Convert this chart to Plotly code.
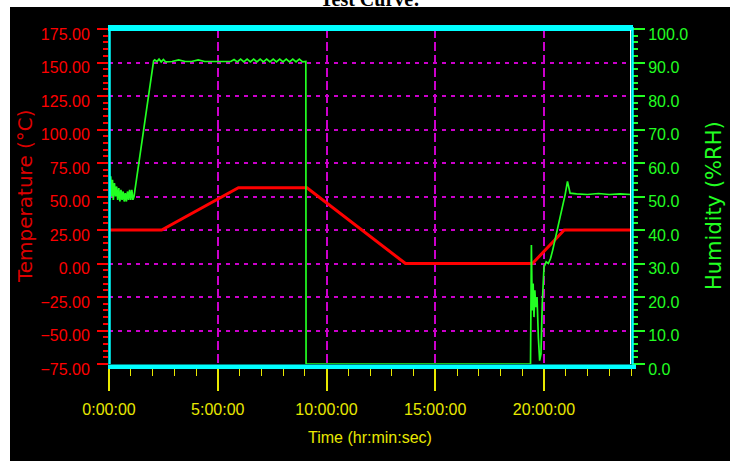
import plotly.graph_objects as go

# ---------------- data ----------------
time_ticks = [0, 5, 10, 15, 20]
time_labels = ["0:00:00", "5:00:00", "10:00:00", "15:00:00", "20:00:00"]

# Temperature (°C) vs time (hours)
temp_t = [0.0, 2.42, 5.95, 9.10, 13.63, 19.47, 20.93, 24.0]
temp_v = [25.0, 25.0, 56.5, 56.5, 0.0, 0.0, 25.0, 25.0]

# Humidity (%RH) vs time (hours)
hum_t = [0.00, 0.04, 0.08, 0.12, 0.16, 0.20, 0.25, 0.30, 0.35, 0.40, 0.45, 0.50,
         0.55, 0.60, 0.65, 0.70, 0.75, 0.80, 0.85, 0.90, 0.95, 1.00, 1.05, 1.10, 1.15,
         1.30, 1.45, 1.60, 1.75, 1.90, 2.05, 2.10,
         2.20, 2.30, 2.40, 2.50, 2.60, 2.90, 3.20, 3.50, 3.80, 4.10, 4.40, 4.70,
         5.00, 5.30, 5.60, 5.75, 5.90, 6.05, 6.20, 6.35, 6.50, 6.65, 6.80, 6.95,
         7.10, 7.25, 7.40, 7.55, 7.70, 7.85, 8.00, 8.15, 8.30, 8.45, 8.60, 8.75,
         8.90, 9.05,
         9.06, 19.38, 19.42, 19.46, 19.50, 19.54, 19.58, 19.62, 19.68, 19.74,
         19.80, 19.86, 19.92, 20.00, 20.10, 20.20, 20.30, 20.40, 20.50, 20.60,
         20.72, 20.85, 20.97, 21.08, 21.20, 21.50, 22.00, 22.50, 23.00, 23.50, 24.00]
hum_v = [65.0, 49.0, 56.0, 50.0, 55.0, 49.0, 54.0, 50.0, 53.0, 49.0, 52.5, 48.5,
         52.0, 49.0, 51.5, 48.5, 51.0, 48.5, 51.5, 49.0, 52.0, 49.0, 52.0, 49.0, 50.0,
         57.0, 64.0, 71.0, 78.0, 84.5, 90.5, 90.8,
         90.3, 91.0, 90.2, 90.9, 90.2, 90.3, 90.8, 90.3, 90.3, 90.8, 90.3, 90.3,
         90.3, 90.3, 90.3, 90.9, 90.2, 91.0, 90.2, 91.0, 90.2, 91.0, 90.2, 91.0,
         90.2, 91.0, 90.2, 91.0, 90.2, 91.0, 90.2, 91.0, 90.2, 91.0, 90.2, 91.0,
         90.2, 90.3,
         0.0, 0.0, 35.5, 16.0, 24.0, 14.0, 22.0, 17.0, 20.0, 8.0,
         1.0, 3.0, 18.0, 29.0, 30.5, 30.0, 31.5, 34.0, 37.0, 40.0,
         43.0, 46.5, 50.5, 54.5, 51.0, 50.8, 50.6, 50.9, 50.6, 50.8, 50.6]

# ---------------- figure ----------------
W, H = 730, 461
L, R, T, B = 109, 631, 29, 364
pw, ph = R - L, B - T


def px(x):
    return (x - L) / pw


def py(y):
    return (B - y) / ph


SANS = "Liberation Sans, Arial, sans-serif"
RED = "#FF0000"
GREEN = "#22FF22"
YELLOW = "#E8E800"
CYAN = "#00FFFF"
MAGENTA = "#CC00CC"

fig = go.Figure()
fig.add_trace(go.Scatter(x=temp_t, y=temp_v, mode="lines", yaxis="y",
                         line=dict(color=RED, width=3), hoverinfo="skip"))
fig.add_trace(go.Scatter(x=hum_t, y=hum_v, mode="lines", yaxis="y2",
                         line=dict(color=GREEN, width=1.7), hoverinfo="skip"))

fig.update_layout(
    width=W, height=H,
    margin=dict(l=L, r=W - R, t=T, b=H - B, pad=0),
    paper_bgcolor="white", plot_bgcolor="black",
    showlegend=False,
    xaxis=dict(
        range=[0, 24], tickmode="array", tickvals=time_ticks, ticktext=time_labels,
        ticks="outside", ticklen=26, tickwidth=1.5, tickcolor=YELLOW,
        minor=dict(dtick=1, tick0=0, ticklen=11, tickwidth=1, tickcolor=YELLOW,
                   ticks="outside", showgrid=False),
        showgrid=True, gridcolor=MAGENTA, griddash="9px,4px", gridwidth=1.5,
        zeroline=False, showline=False, ticklabelstandoff=5,
        tickfont=dict(family=SANS, size=16, color=YELLOW),
    ),
    yaxis=dict(
        range=[-75, 175], tickmode="linear", tick0=0, dtick=25, tickformat=".2f",
        ticks="outside", ticklen=11, tickwidth=2, tickcolor=RED,
        minor=dict(dtick=5, ticklen=5, tickwidth=1.5, tickcolor=RED,
                   ticks="outside", showgrid=False),
        showgrid=True, gridcolor=MAGENTA, griddash="4px,5px", gridwidth=2,
        zeroline=False, showline=False, ticklabelshift=5, ticklabelstandoff=4,
        tickfont=dict(family=SANS, size=16, color=RED),
    ),
    yaxis2=dict(
        range=[0, 100], overlaying="y", side="right", tickmode="linear", tick0=0,
        dtick=10, tickformat=".1f",
        ticks="outside", ticklen=13, tickwidth=2, tickcolor=GREEN,
        minor=dict(dtick=2, ticklen=6, tickwidth=1.5, tickcolor=GREEN,
                   ticks="outside", showgrid=False),
        showgrid=False, zeroline=False, showline=False, ticklabelshift=5,
        tickfont=dict(family=SANS, size=16, color=GREEN),
    ),
    shapes=[
        dict(type="rect", xref="paper", yref="paper", layer="below",
             x0=px(10), x1=px(730), y0=py(461), y1=py(7),
             fillcolor="black", line=dict(width=0)),
        dict(type="rect", xref="paper", yref="paper", layer="above",
             x0=px(108), x1=px(633), y0=py(31), y1=py(25),
             fillcolor=CYAN, line=dict(width=0)),
        dict(type="rect", xref="paper", yref="paper", layer="above",
             x0=px(108), x1=px(636), y0=py(369), y1=py(364.5),
             fillcolor=CYAN, line=dict(width=0)),
        dict(type="line", xref="paper", yref="paper", layer="above",
             x0=px(109.5), x1=px(109.5), y0=py(364), y1=py(27),
             line=dict(color=CYAN, width=2.5)),
        dict(type="line", xref="paper", yref="paper", layer="above",
             x0=px(632.5), x1=px(632.5), y0=py(364), y1=py(27),
             line=dict(color=CYAN, width=2.5)),
        dict(type="line", xref="paper", yref="paper", layer="above",
             x0=px(630.5), x1=px(630.5), y0=py(364), y1=py(30),
             line=dict(color="white", width=1)),
    ],
    annotations=[
        dict(text="Test Curve:", xref="paper", yref="paper", x=px(370), y=py(-1),
             xanchor="center", yanchor="middle", showarrow=False,
             font=dict(family="Liberation Serif, Times New Roman, serif", size=20,
                       color="black", weight="bold")),
        dict(text="Temperature (°C)", xref="paper", yref="paper", x=px(25), y=py(196),
             xanchor="center", yanchor="middle", showarrow=False, textangle=-90,
             font=dict(family="DejaVu Sans, sans-serif", size=20, color="#DD0000")),
        dict(text="Humidity (%RH)", xref="paper", yref="paper", x=px(714), y=py(206),
             xanchor="center", yanchor="middle", showarrow=False, textangle=-90,
             font=dict(family="DejaVu Sans, sans-serif", size=21, color=GREEN)),
        dict(text="Time (hr:min:sec)", xref="paper", yref="paper", x=px(370), y=py(437),
             xanchor="center", yanchor="middle", showarrow=False,
             font=dict(family=SANS, size=16, color=YELLOW)),
    ],
)

fig.write_html("out.html", config={"displayModeBar": False},
               post_script="document.body.style.margin='0';document.body.style.padding='0';")
